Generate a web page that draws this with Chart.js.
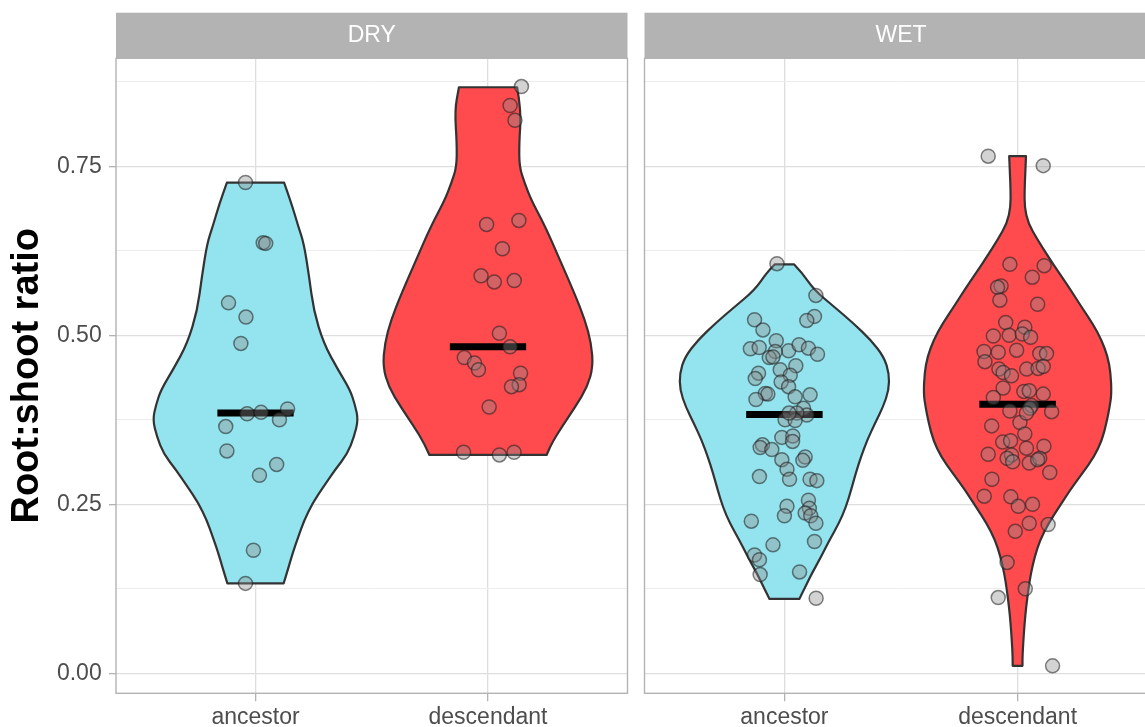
<!DOCTYPE html>
<html>
<head>
<meta charset="utf-8">
<title>Root:shoot ratio</title>
<script src="https://cdn.jsdelivr.net/npm/chart.js@4.4.0/dist/chart.umd.min.js"></script>
<style>
    html, body { margin: 0; padding: 0; background: #ffffff; overflow: hidden; }
    #wrap { position: relative; width: 1145px; height: 727px; overflow: hidden; }
    #wrap canvas { position: absolute; top: 0; }
    #dryChart { left: 0; }
    #wetChart { left: 636px; }
</style>
</head>
<body>
<div id="wrap">
    <canvas id="dryChart" width="636" height="727"></canvas>
    <canvas id="wetChart" width="540" height="727"></canvas>
</div>
<script>
// ============================================
// DATA
// ============================================

const categories = ['ancestor', 'descendant'];
const yMajorTicks = [0, 0.25, 0.5, 0.75];
const yMinorTicks = [0.125, 0.375, 0.625, 0.875];

// Medians, [ancestor, descendant]
const dryMedians = [0.385, 0.483];
const wetMedians = [0.383, 0.398];

// Individual plants: ratio and horizontal jitter (in category units)
const dryAncValues = [0.726, 0.637, 0.636, 0.548, 0.527, 0.488, 0.384, 0.386, 0.391, 0.375, 0.365, 0.329, 0.309, 0.293, 0.182, 0.133];
const dryAncJitter = [-0.043, 0.033, 0.044, -0.116, -0.041, -0.063, -0.036, 0.024, 0.138, 0.103, -0.128, -0.123, 0.091, 0.017, -0.009, -0.043];

const dryDescValues = [0.868, 0.840, 0.818, 0.664, 0.670, 0.628, 0.588, 0.579, 0.581, 0.503, 0.483, 0.467, 0.459, 0.449, 0.444, 0.427, 0.424, 0.394, 0.327, 0.323, 0.327];
const dryDescJitter = [0.144, 0.095, 0.116, -0.006, 0.133, 0.062, -0.030, 0.027, 0.113, 0.049, 0.095, -0.102, -0.058, -0.041, 0.140, 0.134, 0.101, 0.005, -0.105, 0.049, 0.112];

const wetAncValues = [0.606, 0.559, 0.523, 0.528, 0.522, 0.508, 0.480, 0.482, 0.492, 0.477, 0.486, 0.481, 0.472, 0.476, 0.467, 0.468,
    0.455, 0.449, 0.444, 0.436, 0.441, 0.431, 0.424, 0.414, 0.413, 0.405, 0.409, 0.412, 0.392, 0.382, 0.385, 0.375, 0.374, 0.385,
    0.349, 0.351, 0.343, 0.338, 0.334, 0.331, 0.316, 0.320, 0.315, 0.302, 0.287, 0.291, 0.287, 0.285, 0.256, 0.247, 0.233, 0.244,
    0.237, 0.233, 0.222, 0.225, 0.195, 0.190, 0.175, 0.168, 0.146, 0.150, 0.111];
const wetAncJitter = [-0.032, 0.135, -0.128, 0.129, 0.096, -0.092, -0.146, -0.108, -0.035, 0.018, 0.063, 0.103, 0.142, -0.039, -0.065, -0.049,
    0.049, -0.018, -0.111, -0.125, 0.025, -0.014, 0.018, -0.082, -0.071, -0.122, 0.046, 0.110, 0.082, 0.096, 0.053, 0.003, 0.046, 0.020,
    -0.011, 0.036, 0.035, -0.094, -0.104, -0.054, -0.011, 0.089, 0.079, 0.011, 0.022, -0.107, 0.110, 0.139, 0.103, 0.011, 0.000, 0.107,
    0.089, 0.113, 0.135, -0.142, 0.129, -0.049, -0.128, -0.107, -0.104, 0.065, 0.136];

const wetDescValues = [0.765, 0.751, 0.605, 0.603, 0.586, 0.573, 0.571, 0.552, 0.546, 0.519, 0.512, 0.499, 0.500, 0.502, 0.497, 0.476,
    0.475, 0.478, 0.473, 0.473, 0.461, 0.450, 0.445, 0.440, 0.450, 0.451, 0.454, 0.422, 0.417, 0.413, 0.408, 0.418, 0.396, 0.388,
    0.392, 0.387, 0.371, 0.385, 0.366, 0.354, 0.342, 0.344, 0.336, 0.333, 0.324, 0.323, 0.318, 0.313, 0.311, 0.318, 0.316, 0.297,
    0.287, 0.262, 0.261, 0.247, 0.250, 0.222, 0.220, 0.210, 0.164, 0.125, 0.112, 0.011];
const wetDescJitter = [-0.126, 0.110, -0.033, 0.114, 0.063, -0.071, -0.086, -0.076, 0.086, -0.051, 0.031, -0.104, -0.036, 0.020, 0.056, -0.144,
    -0.083, -0.004, 0.095, 0.124, -0.140, -0.080, -0.062, -0.026, 0.039, 0.088, 0.110, -0.062, 0.027, 0.110, -0.104, 0.050, 0.060, -0.033,
    0.053, 0.146, 0.010, 0.038, -0.111, 0.031, -0.064, -0.030, 0.113, 0.038, -0.126, -0.026, -0.045, -0.021, 0.050, 0.095, 0.086, 0.138,
    -0.110, -0.143, -0.029, 0.003, 0.064, 0.050, 0.131, -0.010, -0.045, 0.033, -0.083, 0.150];

// Violin outlines: density half-width (category units) at each ratio level, bottom to top
const dryAncLevels = [0.133, 0.153, 0.178, 0.202, 0.227, 0.252, 0.276, 0.301, 0.325, 0.350, 0.375, 0.397, 0.419, 0.449, 0.488, 0.537, 0.586, 0.636, 0.661, 0.695, 0.726];
const dryAncWidth = [0.121, 0.139, 0.160, 0.184, 0.210, 0.246, 0.292, 0.342, 0.396, 0.424, 0.442, 0.428, 0.407, 0.355, 0.293, 0.250, 0.231, 0.208, 0.184, 0.155, 0.123];

const dryDescLevels = [0.323, 0.340, 0.365, 0.394, 0.424, 0.454, 0.488, 0.523, 0.562, 0.611, 0.661, 0.700, 0.725, 0.749, 0.784, 0.833, 0.867];
const dryDescWidth = [0.252, 0.274, 0.318, 0.375, 0.428, 0.452, 0.444, 0.417, 0.372, 0.310, 0.246, 0.186, 0.158, 0.135, 0.134, 0.143, 0.125];

const wetAncLevels = [0.110, 0.128, 0.148, 0.172, 0.197, 0.222, 0.246, 0.271, 0.296, 0.320, 0.345, 0.370, 0.394, 0.419, 0.444, 0.468, 0.493, 0.518, 0.542, 0.567, 0.592, 0.605];
const wetAncWidth = [0.064, 0.090, 0.118, 0.157, 0.193, 0.234, 0.264, 0.286, 0.306, 0.328, 0.355, 0.389, 0.423, 0.448, 0.449, 0.427, 0.371, 0.295, 0.214, 0.128, 0.077, 0.041];

const wetDescLevels = [0.011, 0.025, 0.049, 0.074, 0.099, 0.123, 0.148, 0.172, 0.197, 0.222, 0.246, 0.271, 0.296, 0.320, 0.345, 0.370,
    0.394, 0.414, 0.444, 0.468, 0.493, 0.518, 0.542, 0.567, 0.592, 0.616, 0.641, 0.666, 0.690, 0.715, 0.740, 0.765];
const wetDescWidth = [0.021, 0.021, 0.025, 0.030, 0.037, 0.046, 0.057, 0.073, 0.096, 0.133, 0.178, 0.225, 0.278, 0.328, 0.362, 0.381,
    0.395, 0.403, 0.399, 0.387, 0.360, 0.321, 0.274, 0.228, 0.179, 0.132, 0.086, 0.045, 0.030, 0.030, 0.033, 0.036];

// ============================================
// STYLE
// ============================================

const FONT = '"Liberation Sans", Arial, Helvetica, sans-serif';
const ANCESTOR_FILL = '#93e4ee';
const DESCENDANT_FILL = '#ff4a4e';
const TEXT_GREY = '#4d4d4d';
const FRAME_GREY = '#b3b3b3';
const STRIP_TOP = 12.7;
const MEDIAN_HALF = 0.164;

Chart.defaults.font.family = FONT;

// ============================================
// PLUGINS
// ============================================

// Facet strip above the panel and the panel frame
function panelPlugin(label) {
    return {
        id: 'panel',
        beforeDraw(chart) {
            const { ctx, chartArea: a } = chart;
            ctx.save();
            ctx.fillStyle = '#ffffff';
            ctx.fillRect(a.left, a.top, a.width, a.height);
            ctx.fillStyle = FRAME_GREY;
            ctx.fillRect(a.left, STRIP_TOP, a.width, a.top - STRIP_TOP);
            ctx.fillStyle = '#ffffff';
            ctx.font = `23px ${FONT}`;
            ctx.textAlign = 'center';
            ctx.textBaseline = 'middle';
            ctx.fillText(label, a.left + a.width / 2, (STRIP_TOP + a.top) / 2 + 0.5);
            ctx.restore();
        },
        afterDraw(chart) {
            const { ctx, chartArea: a } = chart;
            ctx.save();
            ctx.strokeStyle = FRAME_GREY;
            ctx.lineWidth = 1.4;
            ctx.strokeRect(a.left, a.top, a.width, a.height);
            ctx.restore();
        }
    };
}

// smooth a polyline through the midpoints of its vertices
function traceSmooth(ctx, pts, start) {
    if (start) ctx.moveTo(pts[0][0], pts[0][1]);
    else ctx.lineTo(pts[0][0], pts[0][1]);
    for (let i = 1; i < pts.length - 1; i++) {
        const mx = (pts[i][0] + pts[i + 1][0]) / 2;
        const my = (pts[i][1] + pts[i + 1][1]) / 2;
        ctx.quadraticCurveTo(pts[i][0], pts[i][1], mx, my);
    }
    const last = pts[pts.length - 1];
    ctx.lineTo(last[0], last[1]);
}

// Violins drawn under the points, mirrored around each category
function violinPlugin(groups) {
    return {
        id: 'violins',
        beforeDatasetsDraw(chart) {
            const { ctx, scales: { x, y } } = chart;
            ctx.save();
            groups.forEach(g => {
                const left = g.levels.map((lv, i) => [x.getPixelForValue(g.center - g.width[i]), y.getPixelForValue(lv)]);
                const right = g.levels.map((lv, i) => [x.getPixelForValue(g.center + g.width[i]), y.getPixelForValue(lv)]).reverse();
                ctx.beginPath();
                traceSmooth(ctx, left, true);
                traceSmooth(ctx, right, false);
                ctx.closePath();
                ctx.fillStyle = g.fill;
                ctx.fill();
                ctx.lineWidth = 2.2;
                ctx.lineJoin = 'round';
                ctx.strokeStyle = '#333333';
                ctx.stroke();
            });
            ctx.restore();
        }
    };
}

// ============================================
// PANELS
// ============================================

function buildPanel(canvasId, label, groups, firstPanel, padLeft, padRight) {
    const ctx = document.getElementById(canvasId);

    const datasets = [];
    groups.forEach(g => {
        datasets.push({
            data: [{ x: g.center - MEDIAN_HALF, y: g.median }, { x: g.center + MEDIAN_HALF, y: g.median }],
            showLine: true,
            borderColor: '#000000',
            borderWidth: 7,
            pointRadius: 0,
            order: 2
        });
        datasets.push({
            data: g.values.map((v, i) => ({ x: g.center + g.jitter[i], y: v })),
            pointRadius: 7,
            backgroundColor: 'rgba(140, 140, 140, 0.38)',
            borderColor: 'rgba(30, 30, 30, 0.55)',
            borderWidth: 1.5,
            order: 1
        });
    });

    const yTicks = yMajorTicks.concat(yMinorTicks).sort((a, b) => a - b);
    const isMajor = v => yMajorTicks.includes(v);

    return new Chart(ctx, {
        type: 'scatter',
        data: { datasets: datasets },
        options: {
            responsive: false,
            animation: false,
            events: [],
            layout: { padding: { top: 58.3, left: padLeft, right: padRight, bottom: 0 } },
            plugins: {
                legend: { display: false },
                tooltip: { enabled: false }
            },
            scales: {
                x: {
                    type: 'linear',
                    bounds: 'data',
                    min: 0.4,
                    max: 2.6,
                    afterBuildTicks: scale => { scale.ticks = [1, 2].map(v => ({ value: v })); },
                    afterFit: scale => { scale.height = 33.7; },
                    ticks: {
                        callback: value => categories[value - 1],
                        color: TEXT_GREY,
                        font: { size: 23 },
                        padding: 2.5,
                        maxRotation: 0,
                        autoSkip: false
                    },
                    grid: {
                        color: '#dedede',
                        lineWidth: 1.3,
                        tickColor: FRAME_GREY,
                        tickLength: 8
                    },
                    border: { display: false }
                },
                y: {
                    type: 'linear',
                    bounds: 'data',
                    min: -0.0296,
                    max: 0.9098,
                    afterBuildTicks: scale => { scale.ticks = yTicks.map(v => ({ value: v })); },
                    afterFit: scale => { scale.width = firstPanel ? 116 : 0; },
                    ticks: {
                        display: firstPanel,
                        callback: value => isMajor(value) ? value.toFixed(2) : '',
                        color: TEXT_GREY,
                        font: { size: 23 },
                        padding: 7.3,
                        autoSkip: false
                    },
                    grid: {
                        color: c => isMajor(c.tick.value) ? '#dedede' : '#ededed',
                        lineWidth: c => isMajor(c.tick.value) ? 1.3 : 1,
                        tickColor: c => isMajor(c.tick.value) ? FRAME_GREY : 'rgba(0, 0, 0, 0)',
                        drawTicks: firstPanel,
                        tickLength: 7
                    },
                    border: { display: false },
                    title: {
                        display: firstPanel,
                        text: 'Root:shoot ratio',
                        color: '#000000',
                        font: { size: 38, weight: 'bold' },
                        padding: { top: 5, bottom: 0 }
                    }
                }
            }
        },
        plugins: [panelPlugin(label), violinPlugin(groups)]
    });
}

const dryGroups = [
    { center: 1, values: dryAncValues, jitter: dryAncJitter, levels: dryAncLevels, width: dryAncWidth, median: dryMedians[0], fill: ANCESTOR_FILL },
    { center: 2, values: dryDescValues, jitter: dryDescJitter, levels: dryDescLevels, width: dryDescWidth, median: dryMedians[1], fill: DESCENDANT_FILL }
];
const wetGroups = [
    { center: 1, values: wetAncValues, jitter: wetAncJitter, levels: wetAncLevels, width: wetAncWidth, median: wetMedians[0], fill: ANCESTOR_FILL },
    { center: 2, values: wetDescValues, jitter: wetDescJitter, levels: wetDescLevels, width: wetDescWidth, median: wetMedians[1], fill: DESCENDANT_FILL }
];

buildPanel('dryChart', 'DRY', dryGroups, true, 0, 7);
buildPanel('wetChart', 'WET', wetGroups, false, 8.5, 18.5);
</script>
</body>
</html>
